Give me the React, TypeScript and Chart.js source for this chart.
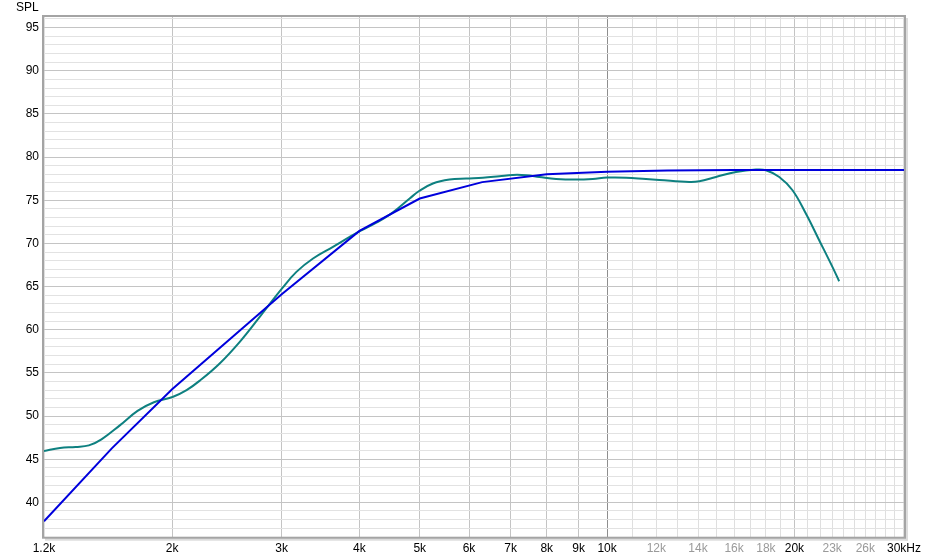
import React, { useEffect, useRef } from "react";
import { Chart, registerables } from "chart.js";

Chart.register(...registerables);

// Axis ranges
const X_MIN = 1245;
const X_MAX = 30000;
const Y_MIN = 36.02;
const Y_MAX = 96.23;

// Target curve (blue)
const targetFreqs = [1245, 1600, 2000, 3000, 4000, 5000, 6300, 8000, 10000, 12500, 16000, 30000];
const targetSpl = [37.8, 46.25, 53.1, 64.1, 71.45, 75.2, 77.1, 78.0, 78.3, 78.45, 78.5, 78.5];

// Measurement (teal)
const measFreqs = [
  1245, 1321, 1400, 1470, 1540, 1650, 1760, 1870, 2003, 2110, 2216, 2385, 2569,
  2766, 3004, 3168, 3369, 3627, 3858, 4014, 4259, 4528, 4817, 4995, 5249, 5582, 5936,
  6315, 6716, 7054, 7413, 7785, 8282, 8917, 9481, 10000, 10727, 11550, 12130, 13556, 14065,
  14960, 16110, 17350, 18000, 18910, 19860, 20865, 21920, 23020, 23600,
];
const measSpl = [
  45.95, 46.3, 46.42, 46.6, 47.3, 48.95, 50.6, 51.6, 52.2, 53.0, 54.1, 56.09, 58.6,
  61.49, 64.78, 66.7, 68.25, 69.6, 70.75, 71.45, 72.4, 73.6, 75.2, 76.1, 76.94, 77.4, 77.52,
  77.6, 77.78, 77.93, 77.9, 77.7, 77.47, 77.4, 77.47, 77.63, 77.62, 77.45, 77.35, 77.12, 77.2,
  77.7, 78.28, 78.56, 78.48, 77.7, 76.16, 73.46, 70.37, 67.28, 65.62,
];

// X tick/grid values and labels
const xTickValues = [
  1245, 2000, 3000, 4000, 5000, 6000, 7000, 8000, 9000, 10000, 11000, 12000, 13000, 14000, 15000,
  16000, 17000, 18000, 19000, 20000, 21000, 22000, 23000, 24000, 25000, 26000, 27000, 28000,
  29000, 30000,
];
const xTickLabels = [
  "1.2k", "2k", "3k", "4k", "5k", "6k", "7k", "8k", "9k", "10k", "", "12k", "", "14k", "",
  "16k", "", "18k", "", "20k", "", "", "23k", "", "", "26k", "", "", "", "30kHz",
];
const xGrayLabels = ["12k", "14k", "16k", "18k", "23k", "26k"];

// Y tick labels every 5 dB, grid every 1 dB
const yLabelValues = [40, 45, 50, 55, 60, 65, 70, 75, 80, 85, 90, 95];
const yGridFrom = 37;
const yGridTo = 96;

const FONT = "'Liberation Sans', Arial, sans-serif";

function xGridColor(v: number): string {
  if (Math.abs(v - 10000) < 1) return "#8e8e8e";
  if ((v >= 1999 && v <= 9001) || Math.abs(v - 20000) < 1) return "#c4c4c4";
  return "#dfdfdf";
}

const framePlugin = {
  id: "frame",
  afterDraw(chart: any) {
    const { ctx, chartArea } = chart;
    const { left, top, right, bottom } = chartArea;
    ctx.save();
    // shadow
    ctx.fillStyle = "#dcdcdc";
    ctx.fillRect(right + 1, top + 1, 3, bottom - top + 3);
    ctx.fillRect(left + 1, bottom + 1, right - left + 3, 3);
    // border
    ctx.strokeStyle = "#a4a4a4";
    ctx.lineWidth = 2;
    ctx.strokeRect(left - 1, top - 1, right - left + 2, bottom - top + 2);
    // axis title
    ctx.fillStyle = "#000";
    ctx.font = `12px ${FONT}`;
    ctx.textBaseline = "middle";
    ctx.textAlign = "left";
    ctx.fillText("SPL", 16, 8);
    ctx.restore();
  },
};

export default function App() {
  const canvasRef = useRef<HTMLCanvasElement | null>(null);

  useEffect(() => {
    document.body.style.margin = "0";
    document.body.style.background = "#fff";
    const canvas = canvasRef.current;
    if (!canvas) return;

    const chart = new Chart(canvas, {
      type: "line",
      data: {
        datasets: [
          {
            label: "Target",
            data: targetFreqs.map((f, i) => ({ x: f, y: targetSpl[i] })),
            borderColor: "#0000dc",
            borderWidth: 2,
            pointRadius: 0,
            tension: 0,
            fill: false,
          },
          {
            label: "Measurement",
            data: measFreqs.map((f, i) => ({ x: f, y: measSpl[i] })),
            borderColor: "#0e8080",
            borderWidth: 2,
            pointRadius: 0,
            tension: 0.4,
            fill: false,
          },
        ],
      },
      options: {
        animation: false,
        responsive: true,
        maintainAspectRatio: false,
        layout: { padding: { top: 17, right: 22, left: 0, bottom: 0 } },
        plugins: {
          legend: { display: false },
          tooltip: { enabled: false },
          title: { display: false },
        },
        scales: {
          x: {
            type: "logarithmic",
            min: X_MIN,
            max: X_MAX,
            afterBuildTicks: (scale: any) => {
              scale.ticks = xTickValues.map((v) => ({ value: v }));
            },
            afterFit: (scale: any) => {
              scale.height = 23.3;
            },
            border: { display: false },
            grid: {
              drawTicks: false,
              color: (ctx: any) => (ctx.tick ? xGridColor(ctx.tick.value) : "#dfdfdf"),
            },
            ticks: {
              autoSkip: false,
              maxRotation: 0,
              minRotation: 0,
              padding: 5,
              font: { family: FONT, size: 12 },
              color: (ctx: any) => {
                const idx = xTickValues.indexOf(ctx.tick ? ctx.tick.value : -1);
                const lbl = idx >= 0 ? xTickLabels[idx] : "";
                return xGrayLabels.includes(lbl) ? "#9a9a9a" : "#000";
              },
              callback: (value: any) => {
                const idx = xTickValues.indexOf(Number(value));
                return idx >= 0 ? xTickLabels[idx] : "";
              },
            },
          },
          y: {
            type: "linear",
            min: Y_MIN,
            max: Y_MAX,
            afterBuildTicks: (scale: any) => {
              const t = [];
              for (let v = yGridFrom; v <= yGridTo; v++) t.push({ value: v });
              scale.ticks = t;
            },
            afterFit: (scale: any) => {
              scale.width = 44;
            },
            border: { display: false },
            grid: {
              drawTicks: false,
              color: (ctx: any) =>
                ctx.tick && yLabelValues.includes(ctx.tick.value) ? "#c4c4c4" : "#e2e2e2",
            },
            ticks: {
              autoSkip: false,
              padding: 5,
              font: { family: FONT, size: 12 },
              color: "#000",
              callback: (value: any) =>
                yLabelValues.includes(Number(value)) ? String(value) : "",
            },
          },
        },
      },
      plugins: [framePlugin],
    } as any);

    return () => chart.destroy();
  }, []);

  return (
    <div style={{ position: "relative", width: 926, height: 560, background: "#fff" }}>
      <canvas ref={canvasRef} />
    </div>
  );
}
